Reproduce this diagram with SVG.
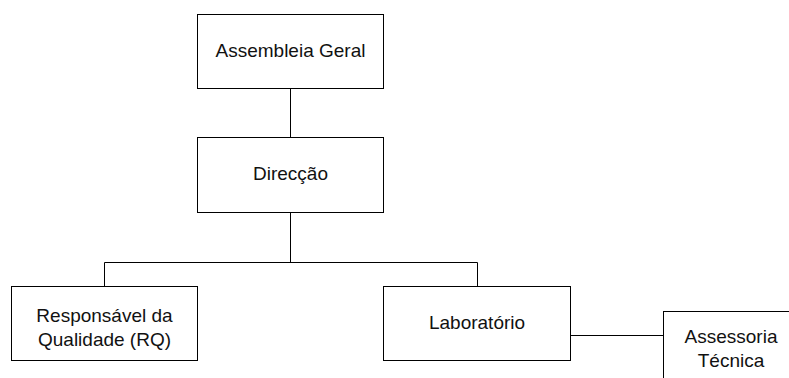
<svg xmlns="http://www.w3.org/2000/svg" width="789" height="378" viewBox="0 0 789 378">
<style>
.box{fill:#fff;stroke:#000;stroke-width:1}
.lbl{font-family:"Liberation Sans",Arial,sans-serif;font-size:19px;fill:#111;text-anchor:middle}
.con{fill:none;stroke:#000;stroke-width:1}
</style>
<rect width="789" height="378" fill="#fff"/>
<g id="connectors">
<path class="con" d="M290.5 88.5V137.5"/>
<path class="con" d="M290.5 212.5V262.5"/>
<path class="con" d="M104.5 286.5V262.5H477.5V286.5"/>
<path class="con" d="M570.5 335.5H663.5"/>
</g>
<g id="assembleia">
<rect class="box" x="197.5" y="14.5" width="186" height="74"/>
<text class="lbl" x="290.5" y="57">Assembleia Geral</text>
</g>
<g id="direccao">
<rect class="box" x="197.5" y="137.5" width="186" height="75"/>
<text class="lbl" x="290.5" y="180">Direcção</text>
</g>
<g id="rq">
<rect class="box" x="11.5" y="286.5" width="186" height="74"/>
<text class="lbl" x="104.5" y="322">Responsável da</text>
<text class="lbl" x="104.5" y="346">Qualidade (RQ)</text>
</g>
<g id="laboratorio">
<rect class="box" x="383.5" y="286.5" width="187" height="74"/>
<text class="lbl" x="477" y="329">Laboratório</text>
</g>
<g id="assessoria">
<rect class="box" x="663.5" y="311.5" width="138" height="80"/>
<text class="lbl" x="731" y="343">Assessoria</text>
<text class="lbl" x="731" y="367">Técnica</text>
</g>
</svg>
